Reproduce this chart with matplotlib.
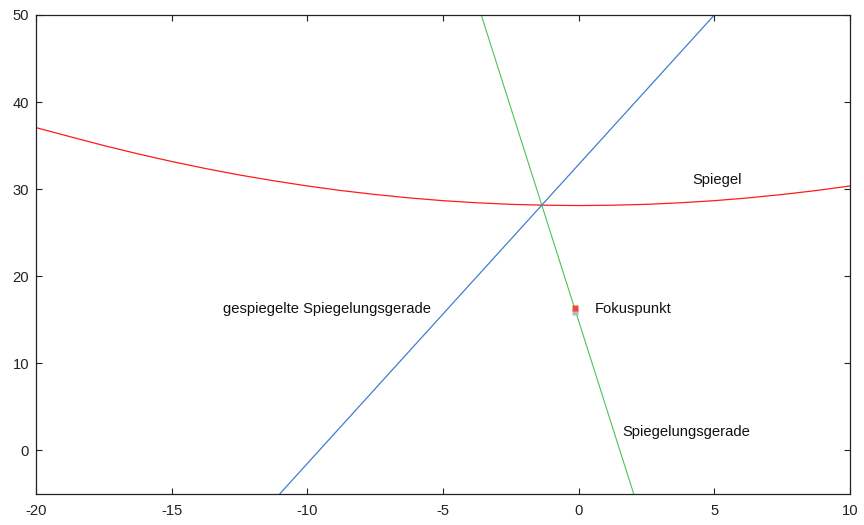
import matplotlib
matplotlib.use("Agg")
import matplotlib.pyplot as plt

mirror_x = [-20, -18.75, -17.5, -16.25, -15, -13.75, -12.5, -11.25, -10, -8.75, -7.5,
            -6.25, -5, -3.75, -2.5, -1.25, 0, 1.25, 2.5, 3.75, 5, 6.25, 7.5, 8.75, 10]
mirror_y = [37.07, 36.03, 35.01, 34.06, 33.18, 32.37, 31.63, 30.97, 30.37, 29.84, 29.39,
            29.00, 28.68, 28.44, 28.26, 28.16, 28.12, 28.16, 28.26, 28.44, 28.68, 29.00,
            29.39, 29.84, 30.37]

# Reflection line (green) endpoints
green_x = [-3.59, 2.03]
green_y = [50, -5]

# Reflected reflection line (blue) endpoints
blue_x = [-11.02, 5.0]
blue_y = [-5, 50]

# Focus point markers
focus_x = [-0.15]
focus_y = [16.4]
focus2_x = [-0.15]
focus2_y = [15.9]

xticks = [-20, -15, -10, -5, 0, 5, 10]
yticks = [0, 10, 20, 30, 40, 50]

labels = [
    ("Spiegel", 4.19, 31.1),
    ("gespiegelte Spiegelungsgerade", -13.12, 16.2),
    ("Fokuspunkt", 0.61, 16.2),
    ("Spiegelungsgerade", 1.6, 2.1),
]

plt.rcParams['font.family'] = ['Liberation Sans', 'DejaVu Sans']
plt.rcParams['axes.unicode_minus'] = False

fig = plt.figure(figsize=(8.64, 5.25), dpi=100)
ax = fig.add_axes([36/864, 1 - 494/525, (850 - 36)/864, (494 - 15)/525])

ax.plot(mirror_x, mirror_y, color='#ff1a1a', lw=0.9)
ax.plot(green_x, green_y, color='#4cc35a', lw=0.8)
ax.plot(blue_x, blue_y, color='#3f7fcf', lw=0.9)
ax.plot(focus2_x, focus2_y, 's', color='#b8b8b8', ms=4, mec='none')
ax.plot(focus_x, focus_y, 's', color='#ef4a3a', ms=4, mec='none')

for txt, x, y in labels:
    ax.text(x, y, txt, fontsize=10.6, va='center', ha='left', color='#111111')

ax.set_xlim(-20, 10)
ax.set_ylim(-5, 50)
ax.set_xticks(xticks)
ax.set_yticks(yticks)
ax.tick_params(direction='in', length=4.5, width=0.8, top=True, right=True,
               labelsize=10.6, colors='#222222')
ax.tick_params(axis='x', pad=7)
ax.tick_params(axis='y', pad=5)
for s in ax.spines.values():
    s.set_linewidth(0.9)
    s.set_color('#222222')

fig.savefig("out.png", dpi=100)
